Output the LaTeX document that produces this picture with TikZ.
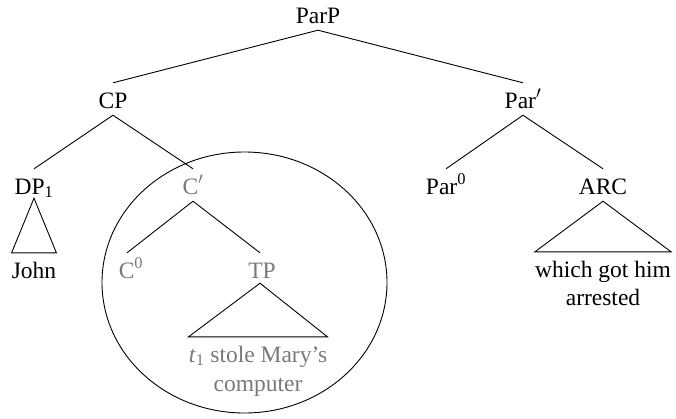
\documentclass[tikz,border=0pt]{standalone}
\usepackage{fontspec}
\setmainfont{Liberation Serif}
\begin{document}
\begin{tikzpicture}[x=1pt,y=-1pt,
  lab/.style={anchor=base,inner sep=0pt,text height=25pt,text depth=7pt,font=\fontsize{23.5}{28}\selectfont},
  grey/.style={text=gray!95!black},
  edge/.style={draw=black,line width=0.9pt},
  circ/.style={draw=black,line width=0.9pt}]
\useasboundingbox (0,0) rectangle (676,418);
% nodes
\node[lab] (parp) at (318,23) {ParP};
\node[lab] (cp) at (113,108) {CP};
\node[lab] (parbar) at (523,108) {Par$'$};
\node[lab] (dp) at (34,194) {DP\textsubscript{1}};
\node[lab,grey] (cbar) at (193,194) {C$'$};
\node[lab] (par0) at (446,194) {Par\textsuperscript{0}};
\node[lab] (arc) at (603,194) {ARC};
\node[lab] (john) at (34,278) {John};
\node[lab,grey] (c0) at (131,278) {C\textsuperscript{0}};
\node[lab,grey] (tp) at (262,278) {TP};
\node[lab,grey] (tline1) at (258,362) {\textit{t}\textsubscript{1} stole Mary’s};
\node[lab,grey] (tline2) at (258,391) {computer};
\node[lab] (aline1) at (603,277) {which got him};
\node[lab] (aline2) at (603,305) {arrested};
% circle
\coordinate (cc) at (244.5,282.5);
\draw[circ] (cc) ellipse [x radius=142.5, y radius=130.5];
% edges
\draw[edge] (parp.south) -- (cp.north);
\draw[edge] (parp.south) -- (parbar.north);
\draw[edge] (cp.south) -- (dp.north);
\draw[edge] (cp.south) -- (cbar.north);
\draw[edge] (parbar.south) -- (par0.north);
\draw[edge] (parbar.south) -- (arc.north);
\draw[edge] (cbar.south) -- ([xshift=-4pt]c0.north);
\draw[edge] (cbar.south) -- ([xshift=-2pt]tp.north);
% roofs
\draw[edge,line join=miter] ([yshift=3pt]dp.south) -- (john.north west) -- (john.north east) -- cycle;
\draw[edge] ([xshift=-2pt,yshift=2pt]tp.south) -- (tline1.north west) -- (tline1.north east) -- cycle;
\draw[edge] (arc.south) -- (aline1.north west) -- (aline1.north east) -- cycle;
\end{tikzpicture}
\end{document}
